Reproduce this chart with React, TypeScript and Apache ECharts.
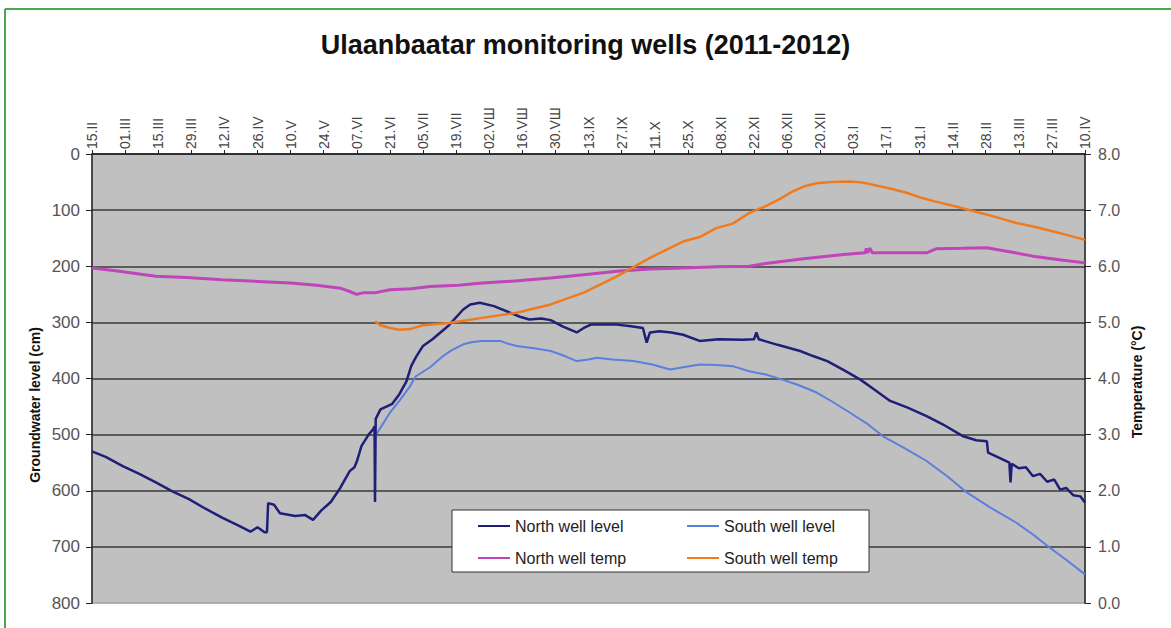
import React, { useEffect, useRef } from "react";
import * as echarts from "echarts";

const FONT = "'Liberation Sans', Arial, sans-serif";

// Top axis: one label every 14 days, starting 15 Feb 2011 (day 0)
const TICK_LABELS = [
  "15.II", "01.III", "15.III", "29.III", "12.IV", "26.IV", "10.V", "24.V",
  "07.VI", "21.VI", "05.VII", "19.VII", "02.VШ", "16.VШ", "30.VШ", "13.IX",
  "27.IX", "11.X", "25.X", "08.XI", "22.XI", "06.XII", "20.XII", "03.I",
  "17.I", "31.I", "14.II", "28.II", "13.III", "27.III", "10.IV",
];

const LEVEL_TICKS = [0, 100, 200, 300, 400, 500, 600, 700, 800];
const TEMP_TICKS = [0, 1, 2, 3, 4, 5, 6, 7, 8];

// [day since 15.II.2011, groundwater level cm]
const NORTH_LEVEL: [number, number][] = [
  [0, 530], [6, 540], [13, 556], [20, 570], [27, 585], [34, 601], [41, 615],
  [48, 632], [55, 648], [62, 662], [67, 673], [70, 665], [73, 674], [74, 674],
  [74.5, 622], [77, 625], [79.5, 640], [86, 645], [90, 643], [93.5, 652],
  [97, 635], [101, 620], [105, 595], [109, 565], [111, 558], [112, 548],
  [114, 520], [117, 500], [119, 490], [119.5, 485], [119.7, 620], [120, 472],
  [122, 455], [127, 445], [130, 428], [133, 405], [135, 378], [137, 362],
  [140, 342], [144, 330], [151, 305], [157, 277], [160, 268], [164, 265],
  [170, 271], [177, 283], [181, 290], [185, 295], [190, 293], [194, 296],
  [199, 307], [205, 318], [208, 310], [211, 304], [222, 304], [228, 307],
  [233, 310], [234.6, 336], [236, 318], [240, 316], [245, 318], [250, 322],
  [257, 333], [265, 330], [275, 331], [280, 330], [281, 318], [282, 330],
  [290, 340], [299.5, 351], [305, 360], [311, 369], [318, 385], [325, 402],
  [331, 420], [337.6, 440], [345, 452], [353, 467], [360, 482], [368.5, 503],
  [374, 510], [378.5, 512], [379, 532], [384, 542], [388, 550], [388.5, 585],
  [389, 552], [392, 560], [395, 558], [398, 574], [401, 570], [404, 584],
  [407, 580], [409.5, 598], [412, 595], [415, 608], [418, 610], [420, 621],
];

const SOUTH_LEVEL: [number, number][] = [
  [119.7, 503], [122, 488], [126, 461], [130, 440], [134.5, 414], [137, 396],
  [143, 380], [148.5, 360], [152, 350], [157, 339], [161, 335], [165, 333],
  [172.6, 333], [176, 338], [179.6, 342], [187, 346], [194, 351], [200, 360],
  [205, 369], [210, 366], [213.5, 363], [220, 366], [229, 369], [237, 375],
  [244.5, 384], [250, 380], [257, 375], [264, 376], [271, 378], [278, 387],
  [285, 393], [292, 402], [299, 412], [306.5, 425], [313, 441], [320.6, 461],
  [328, 481], [334.6, 503], [344, 525], [353, 547], [362, 575], [370, 603],
  [380, 630], [391, 657], [398, 678], [405, 701], [412, 723], [420, 749],
];

// [day, temperature °C]
const NORTH_TEMP: [number, number][] = [
  [0, 5.97], [10, 5.92], [20, 5.86], [27, 5.82], [40, 5.8], [55, 5.76],
  [70, 5.73], [84, 5.7], [95, 5.66], [105, 5.61], [109, 5.55], [112, 5.5],
  [115, 5.53], [120, 5.53], [126, 5.58], [135, 5.6], [143, 5.64], [155, 5.66],
  [165, 5.7], [180, 5.74], [194, 5.79], [208, 5.85], [222, 5.91], [236, 5.95],
  [250, 5.97], [264, 5.99], [278, 6.0], [285, 6.05], [300, 6.13], [318, 6.21],
  [327, 6.24], [327.5, 6.32], [328, 6.24], [329, 6.32], [330, 6.24],
  [353, 6.24], [357, 6.31], [368, 6.32], [378.5, 6.33], [388, 6.26],
  [398, 6.18], [410, 6.11], [420, 6.06],
];

const SOUTH_TEMP: [number, number][] = [
  [119.7, 5.02], [122, 4.95], [126, 4.9], [130, 4.87], [134.5, 4.88],
  [140, 4.95], [151, 4.99], [165, 5.08], [179.6, 5.17], [194, 5.32],
  [208, 5.53], [222, 5.82], [236, 6.15], [250, 6.44], [257, 6.52], [264, 6.68],
  [271, 6.76], [278, 6.95], [285, 7.07], [291, 7.2], [296.7, 7.34],
  [301, 7.42], [306.5, 7.48], [313, 7.5], [320.6, 7.51], [326, 7.49],
  [330.5, 7.45], [337, 7.39], [344.6, 7.31], [350, 7.23], [356, 7.16],
  [365, 7.07], [373, 6.98], [382, 6.88], [391, 6.77], [399, 6.7], [406.6, 6.62],
  [413, 6.55], [420, 6.47],
];

const DAYS_PER_TICK = 14;

export default function App() {
  const ref = useRef<HTMLDivElement>(null);

  useEffect(() => {
    if (!ref.current) return;
    const chart = echarts.init(ref.current, null, { renderer: "svg" });
    const lastDay = (TICK_LABELS.length - 1) * DAYS_PER_TICK;

    const legendCommon = {
      orient: "vertical",
      top: 518,
      padding: 0,
      icon: "rect",
      itemWidth: 32,
      itemHeight: 2,
      itemGap: 16,
      textStyle: { fontSize: 16, color: "#222", fontFamily: FONT },
    };

    chart.setOption({
      animation: false,
      backgroundColor: "#ffffff",
      textStyle: { fontFamily: FONT },
      title: {
        text: "Ulaanbaatar monitoring wells (2011-2012)",
        left: "center",
        top: 26,
        textStyle: { fontSize: 27, fontWeight: "bold", color: "#111", fontFamily: FONT },
      },
      grid: {
        left: 92,
        right: 86,
        top: 154,
        bottom: 25,
        show: true,
        backgroundColor: "#c0c0c0",
        borderColor: "#a8a8a8",
        borderWidth: 1,
        outerBoundsMode: "none",
      },
      xAxis: {
        type: "value",
        position: "top",
        min: 0,
        max: lastDay,
        interval: DAYS_PER_TICK,
        axisLine: { show: true, lineStyle: { color: "#222", width: 1.5 } },
        axisTick: { show: true, inside: false, length: 4, lineStyle: { color: "#222" } },
        splitLine: { show: false },
        axisLabel: {
          rotate: 90,
          margin: 5,
          fontSize: 14,
          color: "#444",
          fontFamily: FONT,
          formatter: (v: number) => TICK_LABELS[Math.round(v / DAYS_PER_TICK)] ?? "",
        },
      },
      yAxis: [
        {
          type: "value",
          inverse: true,
          min: LEVEL_TICKS[0],
          max: LEVEL_TICKS[LEVEL_TICKS.length - 1],
          interval: 100,
          position: "left",
          axisLine: { show: true, lineStyle: { color: "#222", width: 1.5 } },
          axisTick: { show: true, inside: false, length: 6, lineStyle: { color: "#222" } },
          splitLine: {
            show: true,
            lineStyle: {
              color: ["#3a3a3a", "#3a3a3a", "#3a3a3a", "#3a3a3a", "#3a3a3a", "#3a3a3a", "#3a3a3a", "#3a3a3a", "#a8a8a8"],
              width: 1.5,
            },
          },
          axisLabel: { margin: 12, fontSize: 17, color: "#555", fontFamily: FONT },
        },
        {
          type: "value",
          min: TEMP_TICKS[0],
          max: TEMP_TICKS[TEMP_TICKS.length - 1],
          interval: 1,
          position: "right",
          axisLine: { show: true, lineStyle: { color: "#222", width: 1.5 } },
          axisTick: { show: true, inside: false, length: 6, lineStyle: { color: "#222" } },
          splitLine: { show: false },
          axisLabel: {
            margin: 13,
            fontSize: 16,
            color: "#555",
            fontFamily: FONT,
            formatter: (v: number) => v.toFixed(1),
          },
        },
      ],
      legend: [
        { ...legendCommon, left: 478, data: ["North well level", "North well temp"] },
        { ...legendCommon, left: 687, data: ["South well level", "South well temp"] },
      ],
      graphic: [
        {
          type: "line",
          shape: { x1: 5, y1: 9, x2: 1171, y2: 9 },
          style: { stroke: "#4aa84a", lineWidth: 2 },
          silent: true,
        },
        {
          type: "line",
          shape: { x1: 5, y1: 9, x2: 5, y2: 628 },
          style: { stroke: "#4aa84a", lineWidth: 2 },
          silent: true,
        },
        {
          type: "rect",
          shape: { x: 452, y: 510, width: 417, height: 62 },
          style: { fill: "#ffffff", stroke: "#333", lineWidth: 1 },
          z: 3,
          silent: true,
        },
        {
          type: "text",
          x: 35,
          y: 405,
          rotation: Math.PI / 2,
          style: {
            text: "Groundwater level (cm)",
            align: "center",
            verticalAlign: "middle",
            font: `bold 14px ${FONT}`,
            fill: "#111",
          },
          z: 5,
        },
        {
          type: "text",
          x: 1137,
          y: 382,
          rotation: Math.PI / 2,
          style: {
            text: "Temperature (°C)",
            align: "center",
            verticalAlign: "middle",
            font: `bold 14px ${FONT}`,
            fill: "#111",
          },
          z: 5,
        },
      ],
      series: [
        {
          name: "South well level",
          type: "line",
          yAxisIndex: 0,
          data: SOUTH_LEVEL,
          symbol: "none",
          color: "#5b7fdc",
          lineStyle: { width: 2, color: "#5b7fdc" },
        },
        {
          name: "North well level",
          type: "line",
          yAxisIndex: 0,
          data: NORTH_LEVEL,
          symbol: "none",
          color: "#1f1f78",
          lineStyle: { width: 2.5, color: "#1f1f78" },
        },
        {
          name: "North well temp",
          type: "line",
          yAxisIndex: 1,
          data: NORTH_TEMP,
          symbol: "none",
          color: "#bf45b8",
          lineStyle: { width: 3, color: "#bf45b8" },
        },
        {
          name: "South well temp",
          type: "line",
          yAxisIndex: 1,
          data: SOUTH_TEMP,
          symbol: "none",
          color: "#f07a1e",
          lineStyle: { width: 2.5, color: "#f07a1e" },
        },
      ],
    });

    return () => chart.dispose();
  }, []);

  return (
    <div
      ref={ref}
      style={{ position: "absolute", left: 0, top: 0, width: 1171, height: 628, background: "#fff" }}
    />
  );
}
